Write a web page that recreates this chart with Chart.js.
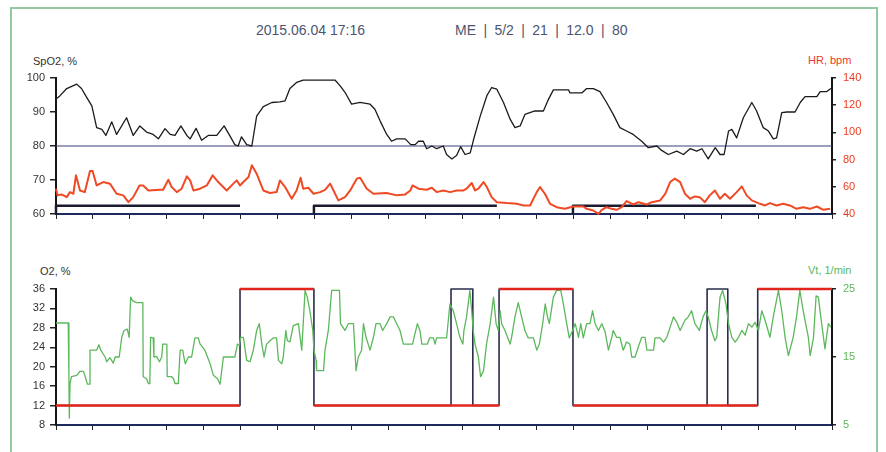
<!DOCTYPE html>
<html>
<head>
<meta charset="utf-8">
<script src="https://cdn.jsdelivr.net/npm/chart.js@4.4.1/dist/chart.umd.min.js"></script>
<style>
body{margin:0;background:#fff;width:886px;height:452px;overflow:hidden;position:relative;font-family:"Liberation Sans",Arial,sans-serif}
.frame{position:absolute;left:10px;top:7px;width:864px;height:460px;border:2px solid #93c9a0}
.t{position:absolute;white-space:pre;line-height:14px}
canvas{position:absolute;left:0}
</style>
</head>
<body>
<div class="frame"></div>
<div class="t" style="left:256px;top:23px;font-size:14px;color:#4b5573">2015.06.04 17:16</div>
<div class="t" style="left:455px;top:23px;font-size:14px;color:#4b5573;word-spacing:3.5px">ME | 5/2 | 21 | 12.0 | 80</div>
<div class="t" style="left:33px;top:54px;font-size:11px;color:#333">SpO2, %</div>
<div class="t" style="left:808px;top:53px;font-size:11px;color:#ee3b1f">HR, bpm</div>
<div class="t" style="left:40px;top:264px;font-size:11px;color:#333">O2, %</div>
<div class="t" style="left:808px;top:263px;font-size:11px;color:#5cb85c">Vt, 1/min</div>
<canvas id="topChart" width="886" height="168" style="top:60px"></canvas>
<canvas id="botChart" width="886" height="168" style="top:271px"></canvas>
<script>
// time in tick intervals (21 intervals on the x axis)
const spo2Time = [0,0.11,0.29,0.56,0.69,0.83,0.97,1.10,1.24,1.35,1.51,1.64,1.91,2.09,2.27,2.45,2.63,2.77,2.95,3.09,3.22,3.38,3.54,3.63,3.79,3.94,4.12,4.35,4.55,4.71,4.84,4.93,5.02,5.16,5.30,5.43,5.61,5.84,6.06,6.20,6.33,6.51,6.69,7.55,7.69,7.82,8.00,8.23,8.50,8.63,8.77,8.95,9.08,9.22,9.45,9.60,9.72,9.81,9.94,10.03,10.17,10.30,10.48,10.57,10.71,10.84,10.95,11.07,11.21,11.30,11.48,11.66,11.79,11.93,12.11,12.29,12.42,12.56,12.69,12.96,13.19,13.33,13.46,13.87,13.91,14.23,14.36,14.54,14.72,14.90,15.08,15.26,15.44,15.62,15.85,16.03,16.26,16.39,16.57,16.80,16.98,17.16,17.34,17.48,17.65,17.84,17.97,18.08,18.20,18.29,18.42,18.60,18.83,18.96,19.14,19.28,19.41,19.50,19.64,19.78,20.00,20.14,20.27,20.59,20.68,20.86,20.97];
const spo2Values = [93.8,94.8,96.9,98.2,96.9,94.3,91.8,85.4,84.9,83.1,87.1,83.4,88.3,83.1,85.9,84.1,83.4,82.1,85.1,83.4,83.1,85.9,83.1,82.1,85.2,81.7,83.1,83.1,85.9,82.9,80.4,80.0,82.7,80.4,80.0,88.8,91.6,92.8,93.0,93.3,96.9,98.7,99.4,99.4,97.7,95.8,92.3,92.8,92.3,90.8,87.4,83.4,81.4,82.1,82.1,80.4,80.4,81.4,81.4,79.2,80.0,79.2,80.0,77.5,76.2,77.2,79.8,77.5,78.0,81.9,88.8,94.8,97.2,96.7,92.8,87.9,85.4,85.9,89.3,90.3,90.3,93.8,96.5,96.5,95.6,95.6,96.9,96.9,96.0,92.8,89.3,85.4,84.4,83.4,81.4,79.5,80.0,78.7,77.5,78.5,77.5,79.2,78.5,79.2,76.2,79.5,77.5,77.5,84.4,84.9,82.4,88.3,92.8,90.3,85.4,84.4,82.1,82.4,89.8,90.0,90.0,92.8,94.5,94.5,96.0,96.0,96.9];

const hrTime = [0,0.04,0.15,0.29,0.38,0.47,0.54,0.65,0.78,0.92,0.99,1.10,1.28,1.46,1.64,1.82,1.96,2.09,2.26,2.36,2.50,2.81,2.90,3.04,3.13,3.27,3.40,3.54,3.63,3.72,3.90,4.08,4.24,4.39,4.62,4.80,4.89,4.98,5.07,5.21,5.30,5.43,5.61,5.79,5.97,6.06,6.20,6.38,6.51,
  6.62,6.69,6.83,6.97,7.15,7.28,7.42,7.51,7.64,7.82,7.96,8.14,8.23,8.41,8.59,8.95,9.22,9.45,9.59,9.65,9.81,10.03,10.17,10.30,10.48,10.67,10.84,11.03,11.11,11.25,11.34,11.43,11.57,11.66,11.79,11.93,12.20,12.47,12.65,12.83,13.01,13.10,13.23,13.37,13.55,13.77,14.00,14.27,14.36,
  14.54,14.68,14.77,14.90,15.04,15.17,15.31,15.44,15.62,15.76,15.99,16.12,16.35,16.49,16.62,16.75,16.89,17.02,17.16,17.29,17.42,17.56,17.69,17.83,17.97,18.10,18.24,18.42,18.56,18.69,18.83,19.05,19.19,19.32,19.50,19.68,19.86,20.04,20.22,20.40,20.59,20.77,20.95];
const hrValues = [58.6,53.7,54.4,52.4,56.1,54.9,68.4,57.3,56.1,71.6,71.6,61.0,63.5,62.3,54.9,53.7,48.7,52.4,61.0,61.0,57.3,57.8,57.8,65.2,59.8,56.1,58.6,67.7,64.7,57.3,58.6,61.0,68.4,63.5,57.3,62.3,64.7,61.0,63.5,67.2,75.8,69.6,57.3,55.4,56.1,64.7,59.8,51.2,57.3,
  66.7,58.6,59.3,54.9,56.1,57.8,62.3,57.3,50.0,52.4,57.3,66.0,66.7,58.6,54.9,55.4,53.7,54.4,57.3,61.0,58.6,57.8,59.3,56.1,57.3,56.1,57.3,57.3,58.6,62.8,57.3,58.6,63.5,59.8,52.4,48.7,48.0,47.5,46.3,46.3,56.1,59.8,54.9,47.5,45.0,43.8,45.5,45.5,43.8,
  42.6,40.1,43.1,45.0,43.8,43.1,45.0,49.5,47.0,48.7,47.0,48.7,50.0,54.9,63.5,66.0,63.5,54.9,51.2,52.9,52.4,48.7,53.7,57.3,51.2,54.9,51.2,56.1,60.3,53.7,50.0,47.5,46.3,48.0,46.3,47.5,46.3,43.8,45.0,43.8,45.5,43.1,43.8];

const spo2Limit = 80;
const periodStart = [0, 6.98, 13.99];
const periodEnd = [4.98, 11.93, 18.94];
const periodLevel = 62.4;

const vtTime = [0,0.33,0.35,0.36,0.38,0.42,0.56,0.65,0.74,0.78,0.85,0.90,0.92,1.10,1.16,1.21,1.33,1.37,1.46,1.55,1.60,1.71,1.78,1.84,1.93,1.98,2.02,2.07,2.18,2.35,2.36,2.45,2.50,2.54,2.56,2.63,2.65,2.72,2.80,2.86,2.89,3.00,3.01,3.13,3.18,3.22,3.31,3.36,3.43,3.46,3.50,3.58,3.67,3.76,3.85,3.90,4.03,4.17,4.26,4.37,4.44,4.53,4.84,4.91,4.96,5.00,5.07,5.16,5.25,5.34,5.43,5.50,5.57,5.63,5.70,5.79,5.88,5.97,6.02,6.11,6.15,6.22,6.26,6.33,6.42,6.56,
  6.65,6.74,6.80,6.87,6.95,6.98,7.04,7.05,7.24,7.28,7.37,7.46,7.67,7.70,7.82,7.91,8.05,8.12,8.18,8.27,8.32,8.39,8.50,8.59,8.66,8.77,8.84,8.95,9.04,9.13,9.22,9.31,9.40,9.65,9.69,9.78,9.85,9.90,10.05,10.11,10.21,10.26,10.30,10.57,10.66,10.75,10.84,10.93,11.01,11.04,11.11,11.20,11.25,11.29,11.34,11.43,11.49,11.57,11.65,11.75,11.84,11.91,11.97,12.02,12.06,12.15,12.29,12.33,12.42,12.51,12.60,12.69,12.78,12.92,13.01,13.08,13.17,13.24,13.30,13.35,13.46,13.55,13.66,13.73,13.82,13.89,13.98,14.05,14.14,14.20,14.27,14.36,
  14.45,14.52,14.59,14.68,14.77,14.86,14.95,15.04,15.08,15.17,15.26,15.35,15.44,15.53,15.58,15.67,15.76,15.85,15.94,15.99,16.17,16.21,16.35,16.44,16.53,16.62,16.71,16.80,16.89,17.02,17.11,17.20,17.29,17.41,17.51,17.59,17.65,17.74,17.83,17.88,17.97,18.04,18.13,18.20,18.29,18.38,18.47,18.56,18.65,18.74,18.83,18.92,19.01,19.10,19.19,19.32,19.41,19.55,19.64,19.73,19.82,19.95,20.04,20.13,20.22,20.36,20.41,20.50,20.57,20.63,20.72,20.81,20.90,20.97];
const vtValues = [20.0,20.0,12.1,6.0,11.1,12.1,12.3,12.9,12.9,12.3,11.0,11.0,16.0,16.0,16.8,16.0,15.0,14.3,14.9,14.1,15.0,15.0,17.9,18.9,19.1,17.9,23.8,23.3,23.0,23.0,12.1,11.8,11.1,11.1,17.9,17.8,15.0,15.1,14.3,15.0,16.9,16.9,12.1,12.1,11.8,11.1,11.1,16.0,16.0,15.0,14.0,15.0,15.0,17.8,17.8,16.9,16.0,14.0,12.3,11.8,11.0,15.0,15.0,16.9,16.7,17.9,17.9,14.5,14.3,16.0,18.9,19.9,16.9,15.0,16.9,17.4,17.8,17.8,14.5,14.0,15.0,18.9,17.4,17.2,19.6,19.9,
  16.0,24.8,23.8,21.8,18.9,16.0,14.5,13.0,13.0,16.0,18.9,24.8,24.8,19.9,18.9,19.9,19.9,13.0,15.0,16.0,19.9,17.9,16.0,17.9,19.9,19.9,18.9,19.9,20.9,20.9,19.9,18.9,16.9,16.9,17.9,19.9,18.9,16.9,16.9,17.8,17.8,16.9,17.8,17.8,22.8,21.8,19.9,17.9,16.9,18.9,20.9,24.8,21.8,18.9,16.9,15.0,12.1,13.0,16.9,19.9,23.8,19.9,18.9,21.8,19.9,18.9,16.9,17.9,20.9,23.0,20.9,18.9,17.8,17.8,16.0,16.9,19.9,22.8,20.9,19.9,23.8,24.8,24.8,22.8,19.9,17.8,18.9,19.9,17.9,19.9,17.8,19.9,
  19.9,21.8,19.9,18.9,19.9,18.7,16.0,17.9,18.9,17.9,17.9,16.0,17.2,16.9,15.0,15.0,16.5,17.9,17.9,16.0,16.0,17.8,17.8,17.2,17.9,19.4,20.9,20.1,18.9,20.4,20.9,21.8,19.9,18.9,20.9,21.8,20.9,18.9,17.4,17.9,23.8,24.8,22.8,19.9,17.9,17.2,17.9,18.9,18.2,19.9,19.4,20.1,18.9,21.8,20.4,17.9,20.9,24.8,21.8,17.9,15.2,17.9,20.9,24.8,21.8,17.9,15.2,17.9,24.0,23.8,19.9,16.2,19.9,19.4];

// measured O2 (changes at these times) and set O2
const o2Times = [0, 4.98, 6.98, 10.69, 11.28, 11.99, 13.99, 17.62, 18.18, 18.99, 21];
const o2Levels = [12, 36, 12, 36, 12, 36, 12, 36, 12, 36, 36];
const o2SetTimes = [0, 4.98, 6.98, 11.99, 13.99, 18.99, 21];
const o2SetLevels = [12, 36, 12, 36, 12, 36, 36];

const FONT = {family: '"Liberation Sans", Arial, sans-serif', size: 11};

function pairs(xs, ys) {
  let out = [];
  for (let i = 0; i < xs.length && i < ys.length; i++) out.push({x: xs[i], y: ys[i]});
  return out;
}

let periodPoints = [];
for (let i = 0; i < periodStart.length; i++) {
  periodPoints.push({x: periodStart[i], y: 60}, {x: periodStart[i], y: periodLevel},
                    {x: periodEnd[i], y: periodLevel}, {x: periodEnd[i], y: null});
}

let setPoints = [];
for (let i = 0; i < o2SetTimes.length - 1; i++) {
  setPoints.push({x: o2SetTimes[i], y: o2SetLevels[i]}, {x: o2SetTimes[i + 1], y: o2SetLevels[i]},
                 {x: o2SetTimes[i + 1], y: null});
}

function xAxis() {
  return {
    type: 'linear', min: 0, max: 21,
    ticks: {display: false, stepSize: 1},
    grid: {drawOnChartArea: false, tickLength: 5, color: '#222', lineWidth: 1},
    border: {color: '#1e2a5e', width: 2},
    afterFit: s => { s.height = 14; }
  };
}

function yAxis(pos, min, max, step, color, w) {
  return {
    position: pos, min: min, max: max,
    ticks: {stepSize: step, color: color, font: FONT, padding: pos === 'left' ? 5 : 7},
    grid: {drawOnChartArea: false, tickLength: pos === 'left' ? 6 : 4, color: '#222', lineWidth: 1.5},
    border: {color: '#151515', width: 2},
    afterFit: s => { s.width = w; }
  };
}

const common = {
  responsive: false,
  animation: false,
  maintainAspectRatio: false,
  layout: {padding: {top: 18, bottom: 0, left: 0, right: 0}},
  datasets: {line: {clip: false}},
  elements: {point: {radius: 0}, line: {tension: 0, borderJoinStyle: 'round'}},
  plugins: {legend: {display: false}, tooltip: {enabled: false}}
};

new Chart(document.getElementById('topChart'), {
  type: 'line',
  data: {
    datasets: [
      {label: 'SpO2', data: pairs(spo2Time, spo2Values), yAxisID: 'y', borderColor: '#1b1b1b', borderWidth: 1.3, order: 0},
      {label: 'HR', data: pairs(hrTime, hrValues), yAxisID: 'y2', borderColor: '#f04a24', borderWidth: 2, order: 1},
      {label: 'limit', data: [{x: 0, y: spo2Limit}, {x: 21, y: spo2Limit}], yAxisID: 'y', borderColor: '#3d3f7a', borderWidth: 1, order: 2},
      {label: 'periods', data: periodPoints, yAxisID: 'y', borderColor: '#1a1a30', borderWidth: 2.5, spanGaps: false, order: 3}
    ]
  },
  options: Object.assign({}, common, {
    scales: {
      x: xAxis(),
      y: yAxis('left', 60, 100, 10, '#333', 56),
      y2: yAxis('right', 40, 140, 10, '#ee3b1f', 54)
    }
  })
});

new Chart(document.getElementById('botChart'), {
  type: 'line',
  data: {
    datasets: [
      {label: 'O2 set', data: setPoints, yAxisID: 'y', borderColor: '#e3261d', borderWidth: 2.4, spanGaps: false, order: 0},
      {label: 'Vt', data: pairs(vtTime, vtValues), yAxisID: 'y2', borderColor: '#5cb85c', borderWidth: 1.3, order: 1},
      {label: 'O2', data: pairs(o2Times, o2Levels), yAxisID: 'y', stepped: true, borderColor: '#2a2c4e', borderWidth: 1.6, order: 2}
    ]
  },
  options: Object.assign({}, common, {
    scales: {
      x: xAxis(),
      y: yAxis('left', 8, 36, 4, '#333', 56),
      y2: yAxis('right', 5, 25, 10, '#5cb85c', 54)
    }
  })
});
</script>
</body>
</html>
